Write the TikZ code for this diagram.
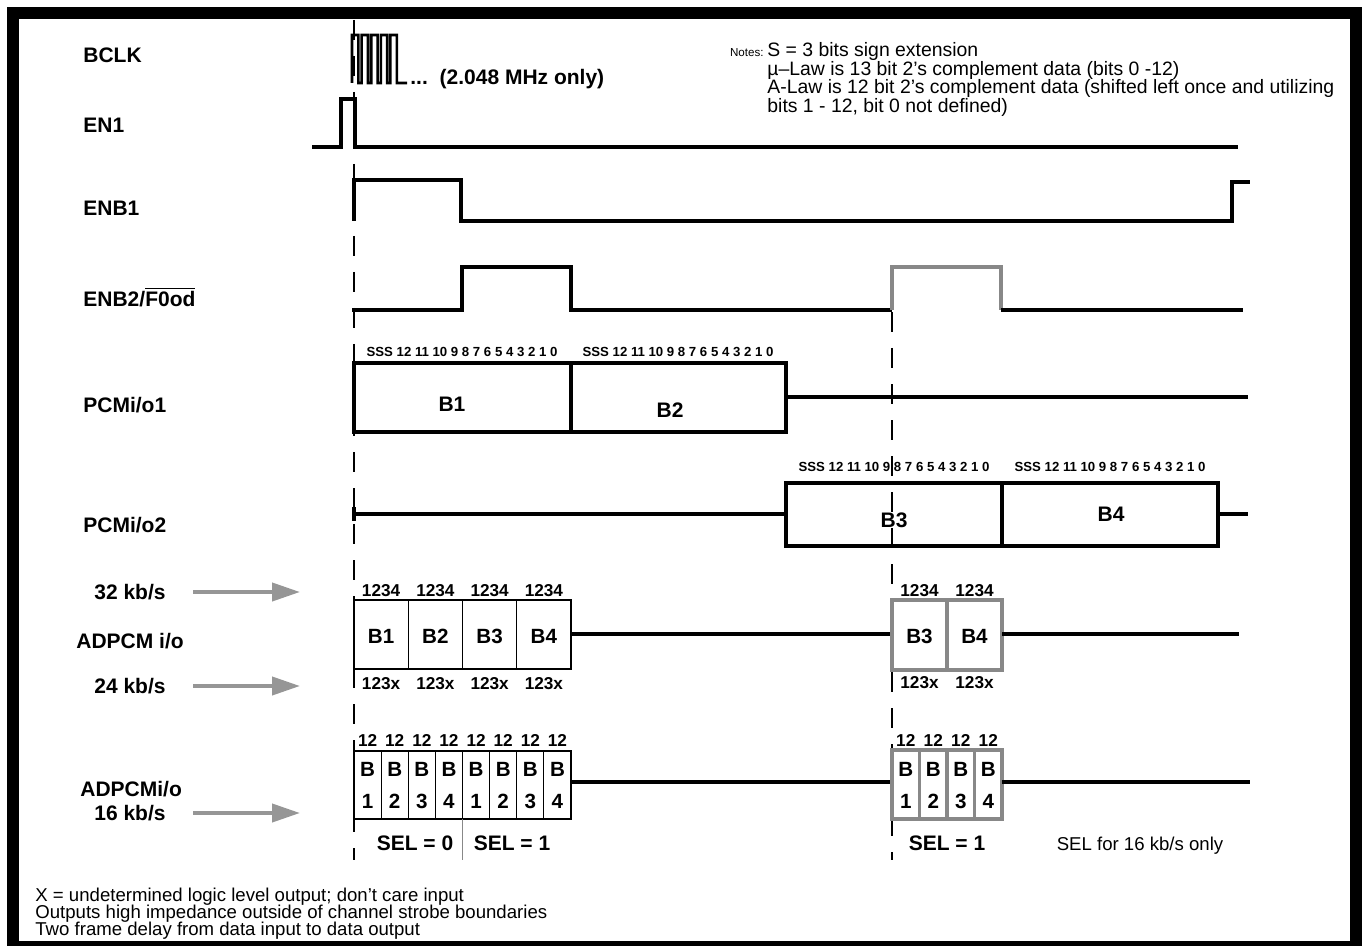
\documentclass[tikz,border=0pt]{standalone}
\usepackage{fontspec}
\setmainfont{Liberation Sans}
\setsansfont{Liberation Sans}
\usepackage{tikz}
\usetikzlibrary{arrows.meta, positioning, calc}

\definecolor{sigGray}{RGB}{136,136,136}
\definecolor{arrGray}{RGB}{150,150,150}

\tikzset{
    lbl/.style={font=\fontsize{10.5}{12}\selectfont\bfseries, anchor=west, inner sep=0pt},
    sig/.style={line width=1.6pt, line join=miter},
    grsig/.style={sig, draw=sigGray},
    strobe/.style={line width=0.6pt, dash pattern=on 10pt off 8pt},
    bitlbl/.style={font=\fontsize{6.6}{7}\selectfont\bfseries, inner sep=0pt},
    nibble/.style={font=\fontsize{8.6}{9}\selectfont\bfseries, inner sep=0pt},
    cellb/.style={font=\fontsize{10.3}{11}\selectfont\bfseries, inner sep=0pt},
    note/.style={font=\fontsize{9.3}{10}\selectfont, anchor=base west, inner sep=0pt},
    topnote/.style={note, font=\fontsize{9.7}{10}\selectfont},
    rate/.style={draw=arrGray, line width=2pt, -{Triangle[length=14pt, width=9pt, fill=arrGray]}}
}

\begin{document}
\begin{tikzpicture}[x=0.5pt, y=-0.5pt, font=\sffamily]
    \useasboundingbox (0,0) rectangle (1364,946);
    % 1. Frame
    \draw[line width=6pt] (13,13) rectangle (1356,947);
    % 2. Strobe markers
    \draw[strobe] (354,20) -- (354,860);
    \draw[strobe] (892,312) -- (892,860);
    % 3. Signal names
    \node[lbl] (bclk) at (83,55) {BCLK};
    \node[lbl] (en1) at (83,125) {EN1};
    \node[lbl] (enb1) at (83,208) {ENB1};
    \node[lbl] (enb2) at (83,297) {ENB2/$\overline{\hbox{F0od}}$};
    \node[lbl] (pcm1) at (83,405) {PCMi/o1};
    \node[lbl] (pcm2) at (83,525) {PCMi/o2};
    \node[lbl, anchor=east] (r32) at (166,592) {32 kb/s};
    \node[lbl] (adpcm) at (76,641) {ADPCM i/o};
    \node[lbl, anchor=east] (r24) at (166,686) {24 kb/s};
    \node[lbl] (adpcm16) at (80,789) {ADPCMi/o};
    \node[lbl, anchor=east] (r16) at (166,813) {16 kb/s};
    % 4. Rate arrows
    \draw[rate] (r32.east) ++(27,0) coordinate (a32) -- ++(107,0);
    \draw[rate] (r24.east) ++(27,0) coordinate (a24) -- ++(107,0);
    \draw[rate] (r16.east) ++(27,0) coordinate (a16) -- ++(107,0);
    % 5. BCLK
    \draw[sig, line width=1.3pt] (352,83)
        foreach \x in {352,361.6,371.2,380.8,390.4} {
            -- (\x,35) -- (\x+6.4,35) -- (\x+6.4,83) -- (\x+9.6,83)
        } -- (407,83);
    \node[lbl, anchor=base west] (mhz) at (410,85) {...\hspace{2pt} (2.048 MHz only)};
    % 6. EN1, ENB1, ENB2
    \draw[sig] (312,147) -- (341,147) -- (341,99) -- (355,99) -- (355,147) -- (1238,147);
    \draw[sig] (354,221) -- (354,180) -- (461,180) -- (461,221) -- (1232,221)
        -- (1232,182) -- (1250,182);
    \draw[sig] (352,310) -- (462,310) -- (462,267) -- (571,267) -- (571,310) -- (892,310);
    \draw[grsig] (892,310) -- (892,267) -- (1001,267) -- (1001,310);
    \draw[sig] (1001,310) -- (1243,310);
    % 7. PCM channels
    \draw[sig] (354,363) rectangle (786,432);
    \draw[sig] (571,363) -- (571,432);
    \draw[sig] (786,397) -- (1248,397);
    \node[cellb, font=\fontsize{10.5}{12}\selectfont\bfseries] (b1) at (452,404) {B1};
    \node[cellb, font=\fontsize{10.5}{12}\selectfont\bfseries] (b2) at (670,410) {B2};
    \draw[sig] (354,507) -- (354,521);
    \draw[sig] (354,514) -- (786,514);
    \draw[sig] (786,483) rectangle (1218,546);
    \draw[sig] (1002,483) -- (1002,546);
    \draw[sig] (1218,514) -- (1248,514);
    \node[cellb, font=\fontsize{10.5}{12}\selectfont\bfseries] (b3) at (894,520) {B3};
    \node[cellb, font=\fontsize{10.5}{12}\selectfont\bfseries] (b4) at (1111,514) {B4};
    \foreach \c/\n in {462/p1, 678/p2} {
        \node[bitlbl] (\n) at (\c,352) {SSS 12 11 10 9 8 7 6 5 4 3 2 1 0};
    }
    \foreach \c/\n in {894/p3, 1110/p4} {
        \node[bitlbl] (\n) at (\c,467) {SSS 12 11 10 9 8 7 6 5 4 3 2 1 0};
    }
    % 8. ADPCM 32/24 kb/s
    \draw[line width=0.6pt] (354,600) rectangle (571,669);
    \foreach \i in {1,2,3} {
        \draw[line width=0.6pt] ({354+\i*54.25},600) -- ({354+\i*54.25},669);
    }
    \foreach \i in {1,...,4} {
        \node[cellb] (ab\i) at ({354+(\i-0.5)*54.25},636) {B\i};
        \node[nibble] (at\i) at ({354+(\i-0.5)*54.25},591) {1234};
        \node[nibble] (au\i) at ({354+(\i-0.5)*54.25},684) {123x};
    }
    \draw[sig] (571,634) -- (892,634);
    \draw[grsig] (892,600) rectangle (1002,670);
    \draw[grsig] (947,600) -- (947,670);
    \draw[sig] (1002,634) -- (1239,634);
    \foreach \i/\c in {3/919.5, 4/974.5} {
        \node[cellb] (gb\i) at (\c,636) {B\i};
        \node[nibble] (gt\i) at (\c,591) {1234};
        \node[nibble] (gu\i) at (\c,683) {123x};
    }
    % 9. ADPCM 16 kb/s
    \draw[line width=0.6pt] (354,751) rectangle (571,819);
    \foreach \i in {1,...,7} {
        \draw[line width=0.6pt] ({354+\i*27.125},751) -- ({354+\i*27.125},819);
    }
    \foreach \i in {1,...,8} {
        \pgfmathtruncatemacro{\k}{mod(\i-1,4)+1}
        \node[cellb] (sb\i) at ({354+(\i-0.5)*27.125},769) {B};
        \node[cellb] (sd\i) at ({354+(\i-0.5)*27.125},801) {\k};
        \node[nibble] (st\i) at ({354+(\i-0.5)*27.125},740) {12};
    }
    \draw[sig] (571,782) -- (892,782);
    \draw[grsig] (892,750) rectangle (1002,819);
    \foreach \i in {1,2,3} {
        \draw[grsig] ({892+\i*27.5},750) -- ({892+\i*27.5},819);
    }
    \foreach \i in {1,...,4} {
        \node[cellb] (gsb\i) at ({892+(\i-0.5)*27.5},769) {B};
        \node[cellb] (gsd\i) at ({892+(\i-0.5)*27.5},801) {\i};
        \node[nibble] (gst\i) at ({892+(\i-0.5)*27.5},740) {12};
    }
    \draw[sig] (1002,782) -- (1250,782);
    % 10. SEL
    \draw[sigGray, line width=0.5pt] (462.7,819) -- (462.7,860);
    \node[lbl, anchor=center] (sel0) at (415,843) {SEL = 0};
    \node[lbl, anchor=center] (sel1) at (512,843) {SEL = 1};
    \node[lbl, anchor=center] (sel2) at (947,843) {SEL = 1};
    \node[note, anchor=center] (selnote) at (1140,846) {SEL for 16 kb/s only};
    % 11. Notes
    \node[note, font=\fontsize{5.8}{6}\selectfont, anchor=base east] (notes) at (764,57) {Notes:};
    \node[topnote] (n1) at (767,57) {S = 3 bits sign extension};
    \node[topnote] (n2) at (767,75.5) {µ–Law is 13 bit 2’s complement data (bits 0 -12)};
    \node[topnote] (n3) at (767,94) {A-Law is 12 bit 2’s complement data (shifted left once and utilizing};
    \node[topnote] (n4) at (767,112.5) {bits 1 - 12, bit 0 not defined)};
    \node[note] (f1) at (35,901) {X = undetermined logic level output; don’t care input};
    \node[note] (f2) at (35,918) {Outputs high impedance outside of channel strobe boundaries};
    \node[note] (f3) at (35,935) {Two frame delay from data input to data output};
\end{tikzpicture}
\end{document}
